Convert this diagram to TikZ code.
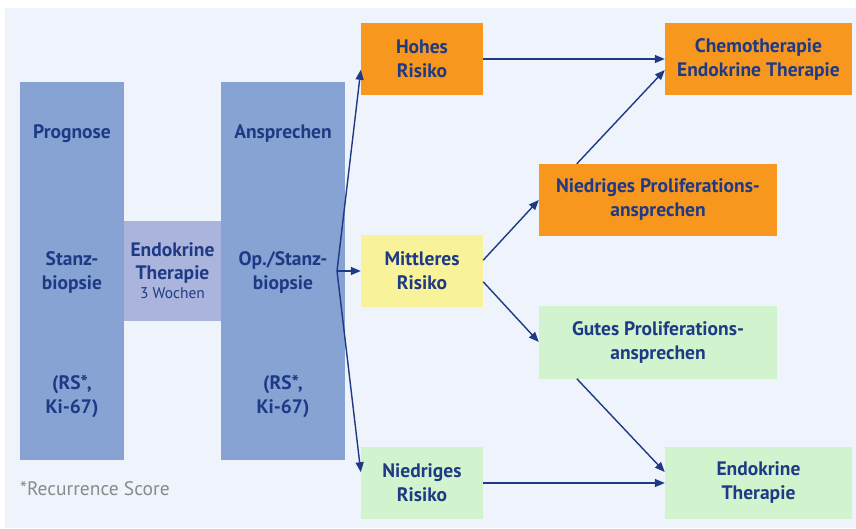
\documentclass[tikz,border=0pt]{standalone}
\usepackage{fontspec}
\setmainfont{PT Sans}
\usetikzlibrary{arrows.meta}
\definecolor{bgblue}{HTML}{EEF3FC}
\definecolor{boxblue}{HTML}{86A3D3}
\definecolor{boxlila}{HTML}{ABB4DC}
\definecolor{boxorange}{HTML}{F7971E}
\definecolor{boxyellow}{HTML}{F8F39A}
\definecolor{boxgreen}{HTML}{D1F4CF}
\definecolor{txtblue}{HTML}{1F3A85}
\definecolor{notegray}{HTML}{8A8A8A}
\tikzset{
	stage/.style={fill=#1, inner sep=0pt, text=txtblue, font=\bfseries\fontsize{19.5}{24}\selectfont, align=center},
	risk/.style={stage=#1, minimum width=122pt, minimum height=72pt},
	lbl/.style={text=txtblue, font=\bfseries\fontsize{19.5}{24}\selectfont, align=center},
	pfeil/.style={draw=txtblue, line width=1.4pt, -{Triangle[length=10pt,width=8pt]}}
}

\begin{document}
\begin{tikzpicture}[x=1pt,y=-1pt]
		%%%%% START %%%%%
		\useasboundingbox (0,0) rectangle (856,528);
		\fill[bgblue] (5,8) rectangle (856,528);
		
		\node[stage=boxblue, minimum width=104pt, minimum height=378pt] (prog) at (72,271) {};
		\node[stage=boxlila, minimum width=97pt, minimum height=100pt, font=\bfseries\fontsize{19.5}{23}\selectfont] (endo3) at (172.5,271) {Endokrine\\Therapie\\[-4pt]{\mdseries\fontsize{15.5}{17}\selectfont 3 Wochen}};
		\node[stage=boxblue, minimum width=124pt, minimum height=378pt] (op) at (283,271) {};
		
		\node[lbl] (progtit) at (72,134) {Prognose};
		\node[lbl] (stanz) at (72,272) {Stanz-\\biopsie};
		\node[lbl] (rs1) at (72,397) {(RS*,\\Ki-67)};
		\node[lbl] (anspr) at (283,134) {Ansprechen};
		\node[lbl] (opst) at (283,272) {Op./Stanz-\\biopsie};
		\node[lbl] (rs2) at (283,397) {(RS*,\\Ki-67)};
		
		\node[risk=boxorange] (hoch) at (422,59) {Hohes\\Risiko};
		\node[risk=boxyellow] (mitt) at (422,271) {Mittleres\\Risiko};
		\node[risk=boxgreen] (nied) at (422,483) {Niedriges\\Risiko};
		
		\node[stage=boxorange, minimum width=187pt, minimum height=72pt] (chemo) at (758.5,59) {Chemotherapie\\Endokrine Therapie};
		\node[stage=boxorange, minimum width=238pt, minimum height=72pt] (nprolif) at (658,200) {Niedriges Proliferations-\\ansprechen};
		\node[stage=boxgreen, minimum width=238pt, minimum height=73pt] (gprolif) at (658,342) {Gutes Proliferations-\\ansprechen};
		\node[stage=boxgreen, minimum width=187pt, minimum height=72pt] (endo) at (758.5,483) {Endokrine\\Therapie};
		
		\node[anchor=west, text=notegray, font=\fontsize{19.5}{22}\selectfont, inner sep=0pt] (note) at (20,489) {*Recurrence Score};
		
		\coordinate (fan) at (337,271);
		\draw[pfeil] (fan) -- (hoch.190);
		\draw[pfeil] (fan) -- (mitt.west);
		\draw[pfeil] (fan) -- (nied.170);
		
		\draw[pfeil] (hoch.east) -- (chemo.west);
		\draw[pfeil] (mitt.10) -- (nprolif.west);
		\draw[pfeil] (mitt.350) -- (gprolif.west);
		\draw[pfeil] ([xshift=38pt]nprolif.north west) -- ([yshift=-11pt]chemo.west);
		\draw[pfeil] ([xshift=38pt]gprolif.south west) -- ([yshift=11pt]endo.west);
		\draw[pfeil] (nied.east) -- (endo.west);
		%%%%% END %%%%%
\end{tikzpicture}
\end{document}
